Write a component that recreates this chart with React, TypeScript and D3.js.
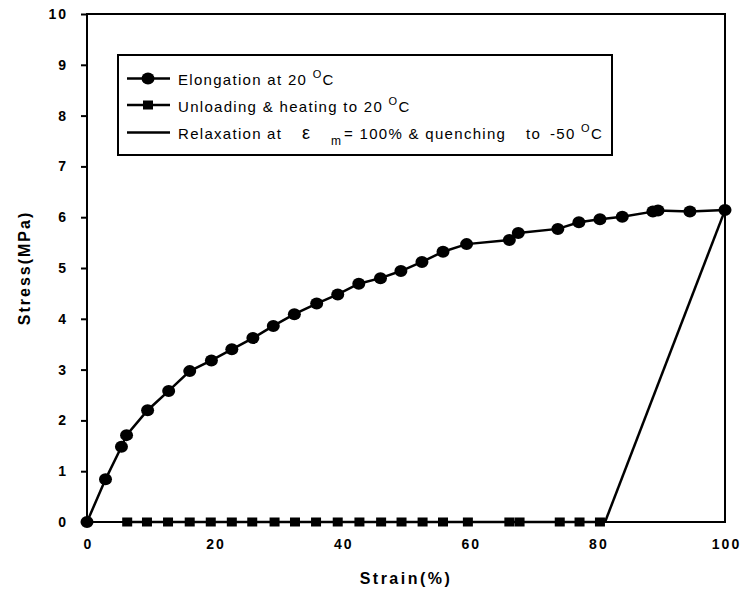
import * as d3 from "d3";
import { useRef, useEffect } from "react";

// Elongation at 20 oC (strain %, stress MPa)
const elongStrain = [0, 2.9, 5.4, 6.2, 9.5, 12.8, 16.1, 19.5, 22.7, 26.0, 29.2, 32.5, 36.0, 39.3, 42.6, 46.0, 49.2, 52.5, 55.8, 59.5, 66.2, 67.6, 73.8, 77.1, 80.4, 83.9, 88.7, 89.5, 94.5, 100];
const elongStress = [0, 0.84, 1.48, 1.71, 2.2, 2.58, 2.97, 3.18, 3.4, 3.62, 3.86, 4.09, 4.3, 4.48, 4.69, 4.8, 4.94, 5.12, 5.32, 5.47, 5.55, 5.69, 5.77, 5.9, 5.96, 6.01, 6.11, 6.13, 6.11, 6.14];

// Unloading & heating to 20 oC
const unloadStrain = [6.3, 9.4, 12.7, 16.1, 19.4, 22.7, 25.9, 29.4, 32.6, 35.9, 39.3, 42.7, 46.1, 49.3, 52.6, 55.8, 59.7, 66.2, 67.8, 74.1, 77.2, 80.4];
const unloadStress = [0, 0, 0, 0, 0, 0, 0, 0, 0, 0, 0, 0, 0, 0, 0, 0, 0, 0, 0, 0, 0, 0];

// Relaxation at em = 100% & quenching to -50 oC
const relaxStrain = [100, 81.2];
const relaxStress = [6.14, 0];

const xTicks = [0, 20, 40, 60, 80, 100];
const yTicks = [0, 1, 2, 3, 4, 5, 6, 7, 8, 9, 10];

const font = "Arial, 'Liberation Sans', Helvetica, sans-serif";

const App = () => {
  const container = useRef<SVGSVGElement | null>(null);

  useEffect(() => {
    const svg = d3.select(container.current);
    svg.selectAll("*").remove();

    const margins = { l: 87, t: 14, r: 20, b: 69 };
    const width = 745;
    const height = 591;

    const xScale = d3.scaleLinear().domain([0, 100]).range([margins.l, width - margins.r]);
    const yScale = d3.scaleLinear().domain([0, 10]).range([height - margins.b, margins.t]);

    const elong = elongStrain.map((s, i) => ({ x: s, y: elongStress[i] }));
    const unload = unloadStrain.map((s, i) => ({ x: s, y: unloadStress[i] }));
    const relax = relaxStrain.map((s, i) => ({ x: s, y: relaxStress[i] }));

    // frame
    svg
      .append("rect")
      .attr("x", xScale(0))
      .attr("y", yScale(10))
      .attr("width", xScale(100) - xScale(0))
      .attr("height", yScale(0) - yScale(10))
      .attr("fill", "none")
      .attr("stroke", "#000")
      .attr("stroke-width", 2);

    // axes
    const yAxis = d3.axisLeft(yScale).tickValues(yTicks).tickSize(6).tickPadding(13).tickSizeOuter(0);
    const xAxis = d3.axisBottom(xScale).tickValues(xTicks).tickSize(0).tickPadding(17).tickSizeOuter(0);

    const yaxisg = svg.append("g").attr("transform", `translate(${xScale(0)},0)`).call(yAxis);
    const xaxisg = svg.append("g").attr("transform", `translate(0,${yScale(0)})`).call(xAxis);

    [yaxisg, xaxisg].forEach((g) => {
      g.select(".domain").remove();
      g.selectAll("line").attr("stroke", "#000").attr("stroke-width", 2);
      g.selectAll("text")
        .attr("fill", "#000")
        .style("font-family", font)
        .style("font-size", "14px")
        .style("font-weight", "bold")
        .style("letter-spacing", "2px");
    });
    xaxisg.selectAll("text").attr("dx", "1px");

    // axis titles
    svg
      .append("text")
      .attr("x", (xScale(0) + xScale(100)) / 2)
      .attr("y", 584)
      .attr("text-anchor", "middle")
      .style("font-family", font)
      .style("font-size", "16px")
      .style("font-weight", "bold")
      .style("letter-spacing", "2.5px")
      .text("Strain(%)");

    svg
      .append("text")
      .attr("transform", `translate(30,${(yScale(0) + yScale(10)) / 2})rotate(-90)`)
      .attr("text-anchor", "middle")
      .style("font-family", font)
      .style("font-size", "16px")
      .style("font-weight", "bold")
      .style("letter-spacing", "2px")
      .text("Stress(MPa)");

    const lineGen = d3
      .line<{ x: number; y: number }>()
      .x((d) => xScale(d.x))
      .y((d) => yScale(d.y));

    // unloading
    svg
      .append("path")
      .datum(unload)
      .attr("d", lineGen)
      .attr("fill", "none")
      .attr("stroke", "#000")
      .attr("stroke-width", 2.5);
    svg
      .selectAll(".sq")
      .data(unload)
      .join("rect")
      .attr("class", "sq")
      .attr("x", (d) => xScale(d.x) - 5)
      .attr("y", (d) => yScale(d.y) - 4.5)
      .attr("width", 10)
      .attr("height", 9)
      .attr("fill", "#000");

    // relaxation
    svg
      .append("path")
      .datum(relax)
      .attr("d", lineGen)
      .attr("fill", "none")
      .attr("stroke", "#000")
      .attr("stroke-width", 2.5);

    // elongation
    svg
      .append("path")
      .datum(elong)
      .attr("d", lineGen)
      .attr("fill", "none")
      .attr("stroke", "#000")
      .attr("stroke-width", 2.5);
    svg
      .selectAll(".dot")
      .data(elong)
      .join("ellipse")
      .attr("class", "dot")
      .attr("cx", (d) => xScale(d.x))
      .attr("cy", (d) => yScale(d.y))
      .attr("rx", 6.5)
      .attr("ry", 6)
      .attr("fill", "#000");

    // legend
    const legendg = svg.append("g");
    legendg
      .append("rect")
      .attr("x", 118)
      .attr("y", 55)
      .attr("width", 494)
      .attr("height", 100)
      .attr("fill", "#fff")
      .attr("stroke", "#000")
      .attr("stroke-width", 2);

    const rows = [78.5, 105, 132.5];
    rows.forEach((ry) => {
      legendg
        .append("line")
        .attr("x1", 127)
        .attr("x2", 170)
        .attr("y1", ry)
        .attr("y2", ry)
        .attr("stroke", "#000")
        .attr("stroke-width", 2.5);
    });
    legendg.append("ellipse").attr("cx", 148).attr("cy", rows[0]).attr("rx", 6.5).attr("ry", 6).attr("fill", "#000");
    legendg.append("rect").attr("x", 143).attr("y", rows[1] - 4.5).attr("width", 10).attr("height", 9).attr("fill", "#000");

    const txt = (y: number) =>
      legendg
        .append("text")
        .attr("x", 178)
        .attr("y", y)
        .style("font-family", font)
        .style("font-size", "15px")
        .style("letter-spacing", "1.3px")
        .attr("fill", "#000");

    const t1 = txt(85);
    t1.append("tspan").text("Elongation at 20 ");
    t1.append("tspan").attr("dy", -7).style("font-size", "11px").text("O");
    t1.append("tspan").attr("dy", 7).text("C");

    const t2 = txt(111.5);
    t2.append("tspan").text("Unloading & heating to 20 ");
    t2.append("tspan").attr("dy", -7).style("font-size", "11px").text("O");
    t2.append("tspan").attr("dy", 7).text("C");

    const t3 = txt(138.5);
    t3.append("tspan").text("Relaxation");
    t3.append("tspan").attr("x", 267).text("at");
    t3.append("tspan").attr("x", 302).style("font-size", "18px").text("\u03b5");
    t3.append("tspan").attr("x", 331).attr("dy", 6).style("font-size", "12px").text("m");
    t3.append("tspan").attr("x", 344).attr("dy", -6).text("= 100% & quenching");
    t3.append("tspan").attr("x", 526).text("to");
    t3.append("tspan").attr("x", 550).text("-50 ");
    t3.append("tspan").attr("dy", -7).style("font-size", "11px").text("O");
    t3.append("tspan").attr("dy", 7).text("C");
  }, []);

  return (
    <svg
      ref={container}
      width={745}
      height={591}
      style={{ position: "absolute", left: 0, top: 0, background: "#fff" }}
    />
  );
};

export default App;
